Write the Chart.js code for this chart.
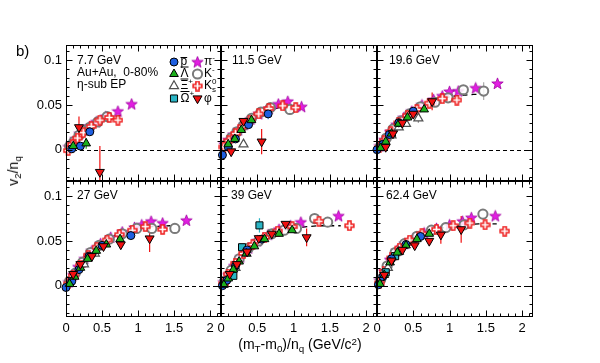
<!DOCTYPE html>
<html><head><meta charset="utf-8">
<script src="https://cdn.jsdelivr.net/npm/chart.js@4/dist/chart.umd.min.js"></script>
<style>
body{margin:0;background:#fff;}
#wrap{position:relative;width:600px;height:363px;overflow:hidden;font-family:"Liberation Sans",Arial,Helvetica,sans-serif;background:#fff;}
#wrap canvas{position:absolute;left:0;top:0;}
.t{position:absolute;white-space:pre;color:#000;line-height:1;z-index:5;}
.sub{position:relative;top:0.3em;font-size:0.7em;}
.sup{position:relative;top:-0.45em;font-size:0.7em;}
</style></head><body><div id="wrap">
<div class="t" style="left:16px;top:43px;font-size:15px;">b)</div>
<div class="t" style="left:77px;top:54px;font-size:12px;">7.7 GeV</div>
<div class="t" style="left:77px;top:66px;font-size:12px;">Au+Au,  0-80%</div>
<div class="t" style="left:77px;top:78px;font-size:12px;">η-sub EP</div>
<div class="t" style="left:232px;top:54px;font-size:12px;">11.5 GeV</div>
<div class="t" style="left:389px;top:54px;font-size:12px;">19.6 GeV</div>
<div class="t" style="left:77px;top:189px;font-size:12px;">27 GeV</div>
<div class="t" style="left:231px;top:189px;font-size:12px;">39 GeV</div>
<div class="t" style="left:386px;top:189px;font-size:12px;">62.4 GeV</div>
<div class="t" style="left:300px;top:337px;font-size:14px;transform:translateX(-50%);">(m<span class="sub">T</span>-m<span class="sub">0</span>)/n<span class="sub">q</span> (GeV/c<span class="sup">2</span>)</div>
<div class="t" style="left:13px;top:171px;font-size:14px;transform:translate(-50%,-50%) rotate(-90deg);">v<span class="sub">2</span>/n<span class="sub">q</span></div>
</div>
<script>
// ---------------- DATA (x = (mT-m0)/nq, y = v2/nq, optional 3rd = error) ----------------
const energies = ['7.7','11.5','19.6','27','39','62.4'];
const xTickValues = [0, 0.5, 1, 1.5, 2];
const yTickValues = [0, 0.05, 0.1];

// 7.7 GeV
const pbar_7 = [[0.08,0.001],[0.2,0.004],[0.33,0.02]];
const lam_7  = [[0.1,0.004],[0.28,0.007,0.006]];
const xi_7   = [];
const om_7   = [];
const pi_7   = [[0.04,0.003],[0.08,0.007],[0.13,0.012],[0.19,0.018],[0.26,0.022],[0.33,0.026],[0.42,0.031],[0.55,0.037],[0.72,0.043],[0.91,0.051]];
const km_7   = [[0.05,0.004],[0.11,0.009],[0.18,0.016],[0.25,0.021],[0.33,0.025],[0.44,0.031],[0.57,0.037]];
const k0_7   = [[0.03,-0.001],[0.09,0.006],[0.16,0.013],[0.24,0.019],[0.35,0.026],[0.47,0.033],[0.6,0.036,0.003],[0.72,0.033,0.004]];
const phi_7  = [[0.18,0.025,0.012],[0.47,-0.025,0.029]];
const fit_7  = [[0,-0.003],[0.2,0.017],[0.4,0.028],[0.6,0.035],[0.8,0.039]];

// 11.5 GeV
const pbar_11 = [[0.02,-0.006],[0.1,0.003],[0.2,0.012],[0.38,0.028],[0.65,0.04,0.006]];
const lam_11  = [[0.1,0.006],[0.19,0.012],[0.28,0.022],[0.42,0.033]];
const xi_11   = [[0.31,0.006]];
const om_11   = [];
const pi_11   = [[0.05,0.006],[0.1,0.011],[0.17,0.017],[0.24,0.022],[0.32,0.028],[0.41,0.034],[0.52,0.04],[0.66,0.046],[0.79,0.051],[0.92,0.054],[1.11,0.048]];
const km_11   = [[0.06,0.005],[0.14,0.013],[0.22,0.02],[0.31,0.027],[0.42,0.035],[0.55,0.042],[0.68,0.047],[0.95,0.045,0.006]];
const k0_11   = [[0.04,0.003],[0.11,0.01],[0.2,0.018],[0.3,0.026],[0.4,0.033],[0.52,0.04],[0.66,0.046],[0.85,0.049],[1.03,0.047,0.005]];
const phi_11  = [[0.14,-0.002,0.004],[0.31,0.032],[0.56,0.009,0.014]];
const fit_11  = [[0,-0.004],[0.2,0.018],[0.4,0.032],[0.6,0.042],[0.8,0.047],[1.0,0.05]];

// 19.6 GeV
const pbar_19 = [[0.0,0.0],[0.08,0.006],[0.17,0.017],[0.3,0.03],[0.5,0.043]];
const lam_19  = [[0.05,0.002],[0.12,0.009],[0.2,0.018],[0.3,0.029],[0.42,0.036],[0.65,0.045]];
const xi_19   = [[0.2,0.016],[0.3,0.025],[0.4,0.029],[0.57,0.035,0.005]];
const om_19   = [];
const pi_19   = [[0.04,0.004],[0.1,0.011],[0.18,0.02],[0.27,0.028],[0.37,0.036],[0.48,0.043],[0.62,0.05],[0.78,0.056],[0.9,0.06],[1.0,0.065],[1.12,0.0655],[1.36,0.069],[1.66,0.074]];
const km_19   = [[0.05,0.004],[0.13,0.013],[0.22,0.023],[0.33,0.032],[0.45,0.04],[0.6,0.048],[0.8,0.053],[0.98,0.058],[1.19,0.067],[1.47,0.0655,0.01]];
const k0_19   = [[0.03,0.002],[0.1,0.01],[0.19,0.02],[0.3,0.03],[0.42,0.038],[0.55,0.045],[0.72,0.052],[0.9,0.057],[1.1,0.0555,0.004]];
const phi_19  = [[0.12,0.003],[0.22,0.018],[0.35,0.03],[0.5,0.04],[0.76,0.054,0.01]];
const fit_19  = [[0,-0.003],[0.2,0.021],[0.4,0.038],[0.6,0.049],[0.8,0.055],[1.0,0.059],[1.2,0.061],[1.4,0.062]];

// 27 GeV
const pbar_27 = [[0.0,-0.002],[0.08,0.005],[0.18,0.018],[0.32,0.033],[0.5,0.045],[0.9,0.056]];
const lam_27  = [[0.05,0.002],[0.12,0.01],[0.2,0.02],[0.3,0.03],[0.42,0.039],[0.56,0.046],[0.75,0.052]];
const xi_27   = [[0.25,0.024],[0.4,0.036]];
const om_27   = [];
const pi_27   = [[0.04,0.004],[0.1,0.012],[0.17,0.021],[0.26,0.03],[0.36,0.039],[0.48,0.047],[0.62,0.054],[0.78,0.06],[0.95,0.065],[1.05,0.068],[1.18,0.072],[1.34,0.07],[1.67,0.073]];
const km_27   = [[0.05,0.005],[0.13,0.014],[0.23,0.026],[0.34,0.037],[0.46,0.045],[0.6,0.052],[0.78,0.058],[0.98,0.064],[1.19,0.064],[1.51,0.064]];
const k0_27   = [[0.03,0.002],[0.1,0.011],[0.2,0.023],[0.31,0.034],[0.43,0.043],[0.57,0.051],[0.74,0.057],[0.92,0.062],[1.1,0.066],[1.34,0.063]];
const phi_27  = [[0.1,0.013],[0.2,0.024],[0.36,0.033],[0.52,0.044],[0.76,0.046],[1.16,0.0527,0.015]];
const fit_27  = [[0,-0.003],[0.2,0.023],[0.4,0.041],[0.6,0.053],[0.8,0.06],[1.0,0.064],[1.2,0.066],[1.45,0.067]];

// 39 GeV
const pbar_39 = [[0.02,0.0],[0.08,0.006],[0.2,0.022],[0.36,0.04],[0.56,0.052]];
const lam_39  = [[0.04,0.001],[0.1,0.008],[0.17,0.018],[0.25,0.027],[0.35,0.036],[0.46,0.044],[0.6,0.052],[0.8,0.058],[0.98,0.062]];
const xi_39   = [[0.2,0.02],[0.35,0.036]];
const om_39   = [[0.17,0.011],[0.29,0.043],[0.53,0.0674,0.008]];
const pi_39   = [[0.04,0.004],[0.1,0.012],[0.18,0.022],[0.27,0.032],[0.38,0.042],[0.5,0.05],[0.65,0.057],[0.8,0.063],[0.96,0.067],[1.1,0.071],[1.62,0.078]];
const km_39   = [[0.05,0.005],[0.14,0.017],[0.25,0.03],[0.38,0.042],[0.52,0.05],[0.7,0.058],[0.87,0.062],[1.04,0.064],[1.29,0.075],[1.47,0.071]];
const k0_39   = [[0.03,0.002],[0.1,0.013],[0.2,0.025],[0.31,0.036],[0.44,0.046],[0.6,0.054],[0.78,0.061],[0.98,0.066],[1.35,0.072],[1.77,0.067,0.004]];
const phi_39  = [[0.12,0.013],[0.22,0.024],[0.36,0.038],[0.52,0.053],[0.7,0.058],[0.89,0.069],[1.18,0.054,0.01]];
const fit_39  = [[0,-0.003],[0.2,0.025],[0.4,0.044],[0.6,0.055],[0.8,0.061],[1.0,0.064],[1.2,0.066],[1.4,0.067],[1.65,0.067]];

// 62.4 GeV
const pbar_62 = [[0.02,0.001],[0.08,0.01],[0.2,0.03],[0.4,0.046],[0.6,0.055]];
const lam_62  = [[0.04,0.002],[0.1,0.012],[0.18,0.026],[0.28,0.037],[0.4,0.045],[0.55,0.052],[0.72,0.058]];
const xi_62   = [[0.15,0.02],[0.3,0.038]];
const om_62   = [[0.12,0.015],[0.25,0.033]];
const pi_62   = [[0.04,0.006],[0.1,0.016],[0.18,0.029],[0.27,0.039],[0.38,0.047],[0.5,0.053],[0.65,0.059],[0.82,0.064],[1.0,0.068],[1.18,0.072],[1.3,0.076],[1.63,0.078]];
const km_62   = [[0.05,0.007],[0.14,0.022],[0.25,0.037],[0.38,0.047],[0.55,0.055],[0.75,0.062],[0.95,0.065],[1.2,0.068],[1.46,0.08]];
const k0_62   = [[0.03,0.003],[0.1,0.016],[0.2,0.031],[0.31,0.042],[0.45,0.051],[0.62,0.058],[0.82,0.063],[1.05,0.067],[1.28,0.07],[1.49,0.068],[1.76,0.061]];
const phi_62  = [[0.1,0.012],[0.2,0.028],[0.35,0.04],[0.52,0.045],[0.72,0.05],[0.88,0.057,0.01],[1.16,0.063,0.015]];
const fit_62  = [[0,-0.002],[0.2,0.03],[0.4,0.048],[0.6,0.058],[0.8,0.063],[1.0,0.066],[1.2,0.068],[1.4,0.069],[1.65,0.069]];

const panelData = [
  {pbar:pbar_7, lam:lam_7, xi:xi_7, om:om_7, pi:pi_7, km:km_7, k0:k0_7, phi:phi_7, fit:fit_7},
  {pbar:pbar_11,lam:lam_11,xi:xi_11,om:om_11,pi:pi_11,km:km_11,k0:k0_11,phi:phi_11,fit:fit_11},
  {pbar:pbar_19,lam:lam_19,xi:xi_19,om:om_19,pi:pi_19,km:km_19,k0:k0_19,phi:phi_19,fit:fit_19},
  {pbar:pbar_27,lam:lam_27,xi:xi_27,om:om_27,pi:pi_27,km:km_27,k0:k0_27,phi:phi_27,fit:fit_27},
  {pbar:pbar_39,lam:lam_39,xi:xi_39,om:om_39,pi:pi_39,km:km_39,k0:k0_39,phi:phi_39,fit:fit_39},
  {pbar:pbar_62,lam:lam_62,xi:xi_62,om:om_62,pi:pi_62,km:km_62,k0:k0_62,phi:phi_62,fit:fit_62}
];

// ---------------- STYLES ----------------
const FONT = '"Liberation Sans", Arial, Helvetica, sans-serif';
function makeStar(){
  const c=document.createElement('canvas'); c.width=13; c.height=13;
  const g=c.getContext('2d'); g.beginPath();
  for(let i=0;i<10;i++){const r=i%2?2.5:6; const a=-Math.PI/2+i*Math.PI/5; g.lineTo(6.5+r*Math.cos(a),6.9+r*Math.sin(a));}
  g.closePath(); g.fillStyle='#e21ee2'; g.fill(); g.lineWidth=0.8; g.strokeStyle='#a000a0'; g.stroke();
  return c;
}
function makeCross(){
  const c=document.createElement('canvas'); c.width=11; c.height=11;
  const g=c.getContext('2d'); const m=5.5,a=1.6,b=4.4;
  g.beginPath();
  g.moveTo(m-a,m-b);g.lineTo(m+a,m-b);g.lineTo(m+a,m-a);g.lineTo(m+b,m-a);g.lineTo(m+b,m+a);g.lineTo(m+a,m+a);
  g.lineTo(m+a,m+b);g.lineTo(m-a,m+b);g.lineTo(m-a,m+a);g.lineTo(m-b,m+a);g.lineTo(m-b,m-a);g.lineTo(m-a,m-a);g.closePath();
  g.fillStyle='#ffffff'; g.fill(); g.lineWidth=1.5; g.strokeStyle='#ee1c1c'; g.stroke();
  return c;
}
const starImg=makeStar(), crossImg=makeCross();
const STY = {
  pbar:{pointStyle:'circle',  r:4,   bg:'#1e5fe0', bd:'#000', bw:1,   err:'#5a9cf0'},
  lam: {pointStyle:'triangle',r:5,   bg:'#1cb01c', bd:'#000', bw:1,   err:'#1cb01c'},
  xi:  {pointStyle:'triangle',r:5.2, bg:'#ffffff', bd:'#505050', bw:1.2, err:'#888'},
  om:  {pointStyle:'rect',    r:5,   bg:'#2ab4c4', bd:'#000', bw:1,   err:'#2ab4c4'},
  pi:  {pointStyle:starImg,   r:6,   bg:'#e21ee2', bd:'#a000a0', bw:1, err:'#e21ee2'},
  km:  {pointStyle:'circle',  r:4.6, bg:'rgba(255,255,255,0.85)', bd:'#7a7a7a', bw:2, err:'#aaa'},
  k0:  {pointStyle:crossImg,  r:5,   bg:'#fff', bd:'#ee1c1c', bw:1, err:'#ee1c1c'},
  phi: {pointStyle:'triangle',r:5.2, bg:'#f01010', bd:'#000', bw:1,   err:'#f01010', rot:180}
};
const drawOrder = ['phi','lam','pbar','om','xi','k0','km','pi']; // first = on top

// ---------------- LAYOUT ----------------
const colL=[66,221,377], colR=[221,377,533], rowT=[45,181], rowB=[181,317];
const W=600,H=363, YAXW=40, XAXH=30;
const XMIN=0, XMAX=2.15, YMIN=-0.035, YMAX=0.117;

const framePlugin = {
  id:'frameTicks',
  beforeDatasetsDraw(chart){
    const {ctx, chartArea:a, scales:{x,y}} = chart;
    ctx.save();
    ctx.strokeStyle='#000'; ctx.lineWidth=1; ctx.setLineDash([4,3]);
    const y0=Math.round(y.getPixelForValue(0))+0.5;
    ctx.beginPath(); ctx.moveTo(a.left,y0); ctx.lineTo(a.right,y0); ctx.stroke();
    ctx.setLineDash([]);
    ctx.beginPath(); ctx.rect(a.left,a.top,a.right-a.left,a.bottom-a.top); ctx.clip();
    chart.data.datasets.forEach(ds=>{
      if(!ds.errs) return;
      ds.data.forEach((p,i)=>{
        const e=ds.errs[i]; if(!e) return;
        const px=x.getPixelForValue(p.x);
        ctx.strokeStyle=ds.errColor; ctx.lineWidth=1.2;
        ctx.beginPath(); ctx.moveTo(px,y.getPixelForValue(p.y-e)); ctx.lineTo(px,y.getPixelForValue(p.y+e)); ctx.stroke();
      });
    });
    ctx.restore();
  },
  afterDraw(chart){
    const {ctx, chartArea:a, scales:{x,y}} = chart;
    ctx.save(); ctx.strokeStyle='#000'; ctx.lineWidth=1;
    const L=Math.round(a.left)+0.5, R=Math.round(a.right)-0.5, T=Math.round(a.top)+0.5, B=Math.round(a.bottom)-0.5;
    ctx.strokeRect(L,T,R-L,B-T);
    ctx.beginPath();
    for(let k=0;k<=21;k++){
      const v=k/10, px=Math.round(x.getPixelForValue(v))+0.5, len=(k%5===0)?6:3;
      ctx.moveTo(px,B); ctx.lineTo(px,B-len);
      ctx.moveTo(px,T); ctx.lineTo(px,T+len);
    }
    for(let k=-3;k<=11;k++){
      const v=k/100, py=Math.round(y.getPixelForValue(v))+0.5, len=(k%5===0)?6:3;
      ctx.moveTo(L,py); ctx.lineTo(L+len,py);
      ctx.moveTo(R,py); ctx.lineTo(R-len,py);
    }
    ctx.stroke(); ctx.restore();
  }
};

function drawMarker(ctx, key, x, y){
  const s=STY[key];
  if(s.pointStyle instanceof HTMLCanvasElement){ ctx.drawImage(s.pointStyle, x-s.pointStyle.width/2, y-s.pointStyle.height/2); return; }
  ctx.save(); ctx.fillStyle=s.bg; ctx.strokeStyle=s.bd; ctx.lineWidth=s.bw; ctx.beginPath();
  const r=s.r;
  if(s.pointStyle==='circle'){ ctx.arc(x,y,r,0,Math.PI*2); }
  else if(s.pointStyle==='rect'){ const h=r*Math.SQRT1_2; ctx.rect(x-h,y-h,2*h,2*h); }
  else { const sgn=s.rot?-1:1; ctx.moveTo(x,y-sgn*r); ctx.lineTo(x+r*0.866,y+sgn*r*0.5); ctx.lineTo(x-r*0.866,y+sgn*r*0.5); ctx.closePath(); }
  ctx.fill(); ctx.stroke(); ctx.restore();
}
function drawRich(ctx, parts, x, y){
  let cx=x;
  parts.forEach(p=>{
    const small=p.sup||p.sub;
    ctx.font=(small?8:12)+'px '+FONT;
    const dy=p.sup?-4.5:(p.sub?3.5:0);
    ctx.fillText(p.t,cx,y+dy);
    const w=ctx.measureText(p.t).width;
    if(p.over){ ctx.beginPath(); const oy=y+(p.low?-4.5:-7); ctx.moveTo(cx,oy); ctx.lineTo(cx+w,oy); ctx.lineWidth=1; ctx.strokeStyle='#000'; ctx.stroke(); }
    if(!p.noadv) cx+=w;
  });
}
const legendPlugin = {
  id:'speciesLegend',
  afterDraw(chart){
    const ctx=chart.ctx; ctx.save(); ctx.fillStyle='#000'; ctx.textBaseline='middle'; ctx.textAlign='left';
    const rows=[62,74,86,98.5];
    const left=[['pbar',[{t:'p',over:true,low:true}]],['lam',[{t:'Λ',over:true}]],['xi',[{t:'Ξ',over:true},{t:'+',sup:true}]],['om',[{t:'Ω',over:true},{t:'+',sup:true}]]];
    const right=[['pi',[{t:'π'},{t:'-',sup:true}]],['km',[{t:'K'},{t:'-',sup:true}]],['k0',[{t:'K'},{t:'0',sup:true,noadv:true},{t:'s',sub:true}]],['phi',[{t:'φ'}]]];
    rows.forEach((ry,i)=>{
      drawMarker(ctx,left[i][0],174,ry); drawRich(ctx,left[i][1],180.5,ry);
      drawMarker(ctx,right[i][0],197.5,ry); drawRich(ctx,right[i][1],204,ry);
    });
    ctx.restore();
  }
};

// ---------------- BUILD CHARTS ----------------
const wrap=document.getElementById('wrap');
panelData.forEach((pd,i)=>{
  const col=i%3,row=Math.floor(i/3);
  const showY=col===0, showX=row===1;
  const cv=document.createElement('canvas'); cv.width=W; cv.height=H; cv.style.width=W+'px'; cv.style.height=H+'px';
  wrap.insertBefore(cv, wrap.firstChild);
  const datasets=[];
  drawOrder.forEach(k=>{
    const s=STY[k], arr=pd[k];
    datasets.push({
      label:k, data:arr.map(p=>({x:p[0],y:p[1]})), errs:arr.map(p=>p[2]||0), errColor:s.err,
      pointStyle:s.pointStyle, pointRadius:s.r, pointHoverRadius:s.r, pointBackgroundColor:s.bg, pointBorderColor:s.bd,
      pointBorderWidth:s.bw, pointRotation:s.rot||0, showLine:false, clip:false
    });
  });
  datasets.push({label:'fit', type:'line', data:pd.fit.map(p=>({x:p[0],y:p[1]})), borderColor:'#000', borderWidth:1.3,
    borderDash:[5,4], pointRadius:0, showLine:true, fill:false, cubicInterpolationMode:'monotone'});
  new Chart(cv,{
    type:'scatter',
    data:{datasets},
    options:{
      responsive:false, animation:false, events:[],
      layout:{padding:{left:showY?colL[col]-YAXW:colL[col], right:W-colR[col], top:rowT[row], bottom:showX?H-rowB[row]-XAXH:H-rowB[row]}},
      plugins:{legend:{display:false}, tooltip:{enabled:false}},
      scales:{
        x:{type:'linear', min:XMIN, max:XMAX, display:showX,
          grid:{display:false, drawTicks:false}, border:{display:false},
          ticks:{autoSkip:false, maxRotation:0, padding:4, color:'#000', font:{size:13, family:FONT}, callback:v=>String(v)},
          afterBuildTicks:s=>{s.ticks=xTickValues.map(v=>({value:v}));},
          afterFit:s=>{s.height=showX?XAXH:0;}},
        y:{type:'linear', min:YMIN, max:YMAX, display:showY,
          grid:{display:false, drawTicks:false}, border:{display:false},
          ticks:{padding:4, color:'#000', font:{size:13, family:FONT}, callback:v=>String(v)},
          afterBuildTicks:s=>{s.ticks=yTickValues.map(v=>({value:v}));},
          afterFit:s=>{s.width=showY?YAXW:0;}}
      }
    },
    plugins: i===0 ? [framePlugin, legendPlugin] : [framePlugin]
  });
});
</script></body></html>
